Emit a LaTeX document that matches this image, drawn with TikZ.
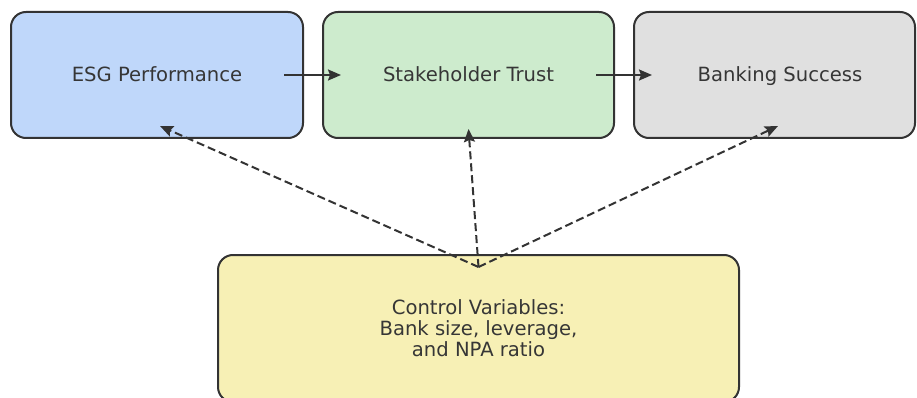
\documentclass[tikz,border=0pt]{standalone}
\usepackage{fontspec}
\setmainfont{DejaVu Sans}
\usetikzlibrary{arrows.meta}
\definecolor{edgegray}{HTML}{333333}
\definecolor{textgray}{HTML}{363636}
\definecolor{esgblue}{HTML}{BFD7FA}
\definecolor{trustgreen}{HTML}{CDEBCD}
\definecolor{bankgray}{HTML}{E0E0E0}
\definecolor{ctrlyellow}{HTML}{F7F0B5}
\tikzset{
  box/.style={draw=edgegray, line width=2pt, rounded corners=15pt,
    inner sep=0pt, anchor=center},
  boxtext/.style={text=textgray, font=\fontsize{19.6}{21}\selectfont,
    align=center, inner sep=0pt},
  flow/.style={draw=edgegray, line width=2pt,
    -{Stealth[length=13pt,width=11pt,inset=2pt]}},
  ctrl/.style={draw=edgegray, line width=2pt, dash pattern=on 8pt off 4pt,
    -{Stealth[length=13pt,width=11pt,inset=2pt]}}
}
\begin{document}
\begin{tikzpicture}[x=1pt,y=-1pt]
  \useasboundingbox (0,0) rectangle (917,398);
  \begin{scope}
    \clip (0,0) rectangle (917,398);
    % top row: the causal chain
    \node[box, fill=esgblue, minimum width=292pt, minimum height=126pt] (esg) at (157,75) {};
    \node[boxtext, anchor=base] (esgtxt) at (157,82) {ESG Performance};
    \node[box, fill=trustgreen, minimum width=291pt, minimum height=126pt] (trust) at (468.5,75) {};
    \node[boxtext, anchor=base] (trusttxt) at (468.5,82) {Stakeholder Trust};
    \node[box, fill=bankgray, minimum width=281pt, minimum height=126pt] (bank) at (774.5,75) {};
    \node[boxtext, anchor=base] (banktxt) at (780,82) {Banking Success};
    % control variables box, running off the bottom edge
    \node[box, fill=ctrlyellow, minimum width=521pt, minimum height=147pt] (ctrl) at (478.5,328.5) {};
    % base anchor of a multi-line node sits on its last line
    \node[boxtext, anchor=base] (ctrltxt) at (478.5,356) {Control Variables:\\Bank size, leverage,\\and NPA ratio};
    \coordinate (apex) at ([yshift=-13pt]ctrl.north);
    % connectors
    \draw[flow] ([xshift=-20pt]esg.east) -- ([xshift=19pt]trust.west);
    \draw[flow] ([xshift=-19pt]trust.east) -- ([xshift=19pt]bank.west);
    \draw[ctrl] (apex) -- ([xshift=3pt,yshift=13pt]esg.south);
    \draw[ctrl] (apex) -- ([yshift=10pt]trust.south);
    \draw[ctrl] (apex) -- ([xshift=3.5pt,yshift=13pt]bank.south);
  \end{scope}
\end{tikzpicture}
\end{document}
